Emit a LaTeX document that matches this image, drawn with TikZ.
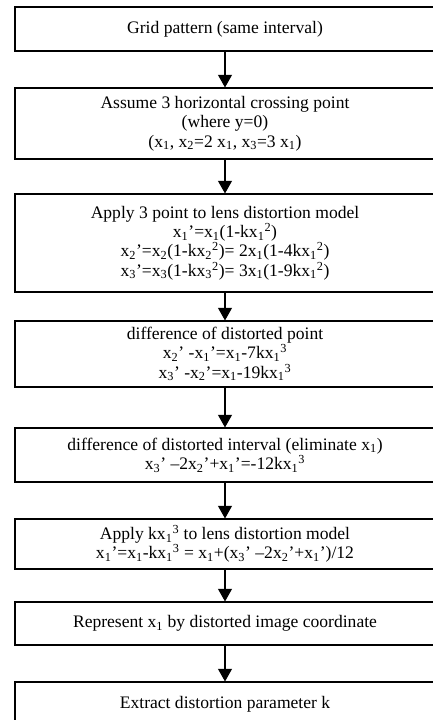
\documentclass[tikz,border=0pt]{standalone}
\usepackage{fontspec}
\setmainfont{Liberation Serif}
\usetikzlibrary{arrows.meta}
\newcommand{\xsub}[1]{x\textsubscript{#1}}
\newcommand{\xp}[1]{x\textsubscript{#1}'}
\begin{document}
\begin{tikzpicture}[x=0.03cm,y=-0.03cm,
    stepbox/.style={draw,line width=0.9pt,minimum width=12.6cm,align=center,
      font=\fontsize{15}{16.5}\selectfont,inner sep=2pt},
    flow/.style={-{Triangle[width=0.42cm,length=0.38cm]},line width=0.9pt}]
    \clip (0,0) rectangle (433,720);
    \node[stepbox,minimum height=44*0.03cm] (G) at (225,29) {Grid pattern (same interval)};
    \node[stepbox,minimum height=71*0.03cm] (A) at (225,123.5) {Assume 3 horizontal crossing point\\(where y=0)\\(\xsub1, \xsub2=2 \xsub1, \xsub3=3 \xsub1)};
    \node[stepbox,minimum height=98*0.03cm] (M) at (225,243) {Apply 3 point to lens distortion model\\
      \xp1=\xsub1(1-k\xsub1\textsuperscript{2})\\
      \xp2=\xsub2(1-k\xsub2\textsuperscript{2})= 2\xsub1(1-4k\xsub1\textsuperscript{2})\\
      \xp3=\xsub3(1-k\xsub3\textsuperscript{2})= 3\xsub1(1-9k\xsub1\textsuperscript{2})};
    \node[stepbox,minimum height=66*0.03cm] (D) at (225,354) {difference of distorted point\\
      \xp2 -\xp1=\xsub1-7k\xsub1\textsuperscript{3}\\
      \xp3 -\xp2=\xsub1-19k\xsub1\textsuperscript{3}};
    \node[stepbox,minimum height=54*0.03cm] (I) at (225,455) {difference of distorted interval (eliminate \xsub1)\\
      \xp3 --2\xp2+\xp1=-12k\xsub1\textsuperscript{3}};
    \node[stepbox,minimum height=50*0.03cm] (K) at (225,544) {Apply k\xsub1\textsuperscript{3} to lens distortion model\\
      \xp1=\xsub1-k\xsub1\textsuperscript{3} = \xsub1+(\xp3 --2\xp2+\xp1)/12};
    \node[stepbox,minimum height=43*0.03cm] (R) at (225,623.5) {Represent \xsub1 by distorted image coordinate};
    \node[stepbox,minimum height=44*0.03cm] (E) at (225,704) {Extract distortion parameter k};
    % arrows between steps
    \draw[flow] (G)--(A);
    \draw[flow] (A)--(M);
    \draw[flow] (M)--(D);
    \draw[flow] (D)--(I);
    \draw[flow] (I)--(K);
    \draw[flow] (K)--(R);
    \draw[flow] (R)--(E);
\end{tikzpicture}
\end{document}
